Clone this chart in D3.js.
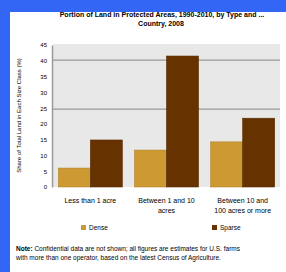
<!DOCTYPE html>
<html>
    <head>
        <script src="https://d3js.org/d3.v7.min.js"></script>
        <style>
            body { margin: 0; background: #fff; }
            svg text { font-family: "Liberation Sans", Arial, sans-serif; fill: #000; }
        </style>
    </head>
    <body>
        <svg id="svg" width=286 height=272></svg>
        <script>
            // chart data
            const categories = ["Less than 1 acre", "Between 1 and 10 acres", "Between 10 and 100 acres or more"];
            const categoryLines = [["Less than 1 acre"], ["Between 1 and 10", "acres"], ["Between 10 and", "100 acres or more"]];
            const seriesNames = ["Dense", "Sparse"];
            const denseValues = [6, 11.7, 14.3];
            const sparseValues = [14.9, 41.5, 21.8];
            const yTicks = [0, 5, 10, 15, 20, 25, 30, 35, 40, 45];
            const gridValues = [24.7, 40.2];
            const colors = ["#cc9933", "#663300"];

            const svg = d3.select("svg#svg");

            // blue page edge
            svg.append("rect").attr("x", 0).attr("y", 0).attr("width", 286).attr("height", 12).attr("fill", "#3366f5");
            svg.append("rect").attr("x", 0).attr("y", 0).attr("width", 10).attr("height", 272).attr("fill", "#3366f5");

            const plot = { left: 53, right: 280, top: 44, bottom: 187 };

            // title
            const title = svg.append("text")
                             .attr("text-anchor", "middle")
                             .attr("font-size", 7)
                             .attr("font-weight", "bold");
            title.append("tspan").attr("x", 162).attr("y", 17).text("Portion of Land in Protected Areas, 1990-2010, by Type and ...");
            title.append("tspan").attr("x", 161).attr("y", 26).text("Country, 2008");

            // scales
            const xScale = d3.scaleBand()
                             .domain(categories)
                             .range([plot.left, plot.right])
                             .paddingInner(0.16)
                             .paddingOuter(0.07);
            const subScale = d3.scaleBand()
                               .domain(seriesNames)
                               .range([0, xScale.bandwidth()]);
            const yScale = d3.scaleLinear()
                             .domain([0, 45])
                             .range([plot.bottom, plot.top + 1]);

            // plot background
            svg.append("rect")
               .attr("x", plot.left).attr("y", plot.top)
               .attr("width", plot.right - plot.left)
               .attr("height", plot.bottom - plot.top)
               .attr("fill", "#e8e8e8");

            // gridlines
            svg.append("g")
               .selectAll("line")
               .data(gridValues)
               .join("line")
               .attr("x1", plot.left).attr("x2", plot.right)
               .attr("y1", d => yScale(d)).attr("y2", d => yScale(d))
               .attr("stroke", "#999")
               .attr("stroke-width", 1.2);

            // left axis
            const leftAxis = d3.axisLeft(yScale)
                               .tickValues(yTicks)
                               .tickSize(0)
                               .tickPadding(5);
            const axisG = svg.append("g")
                             .attr("transform", `translate(${plot.left - 1},0)`)
                             .call(leftAxis);
            axisG.select(".domain").attr("stroke", "#999").attr("stroke-width", 1.5);
            axisG.selectAll("text").attr("font-size", 6).attr("font-family", "Liberation Sans, Arial, sans-serif");

            // y title
            svg.append("text")
               .attr("transform", `translate(21,${(plot.top + plot.bottom) / 2}) rotate(-90)`)
               .attr("text-anchor", "middle")
               .attr("font-size", 6)
               .text("Share of Total Land in Each Size Class (%)");

            // bars
            const rows = categories.map((c, i) => ({ cat: c, values: [denseValues[i], sparseValues[i]] }));
            const groups = svg.append("g")
                              .selectAll("g")
                              .data(rows)
                              .join("g")
                              .attr("transform", d => `translate(${xScale(d.cat)},0)`);
            groups.selectAll("rect")
                  .data(d => d.values.map((v, j) => ({ name: seriesNames[j], value: v, color: colors[j] })))
                  .join("rect")
                  .attr("x", d => subScale(d.name))
                  .attr("width", subScale.bandwidth())
                  .attr("y", d => yScale(d.value))
                  .attr("height", d => plot.bottom - yScale(d.value))
                  .attr("fill", d => d.color)
                  .attr("stroke", d => d3.color(d.color).darker(0.4))
                  .attr("stroke-width", 0.6);

            // category labels
            const catLabels = svg.append("g")
                                 .selectAll("text")
                                 .data(categories)
                                 .join("text")
                                 .attr("text-anchor", "middle")
                                 .attr("font-size", 7)
                                 .attr("y", 203);
            catLabels.selectAll("tspan")
                     .data((d, i) => categoryLines[i].map(t => ({ t, x: xScale(d) + xScale.bandwidth() / 2 })))
                     .join("tspan")
                     .attr("x", d => d.x)
                     .attr("dy", (d, i) => i === 0 ? 0 : 10)
                     .text(d => d.t);

            // legend
            const legendX = [81, 212];
            const legend = svg.append("g")
                              .selectAll("g")
                              .data(seriesNames)
                              .join("g")
                              .attr("transform", (d, i) => `translate(${legendX[i]},225)`);
            legend.append("rect").attr("width", 5).attr("height", 5).attr("fill", (d, i) => colors[i]);
            legend.append("text").attr("x", 8).attr("y", 5).attr("font-size", 6.5).text(d => d);

            // note
            const note = svg.append("text").attr("font-size", 6.5);
            note.append("tspan").attr("x", 16).attr("y", 251).attr("font-weight", "bold").text("Note:");
            note.append("tspan").text(" Confidential data are not shown; all figures are estimates for U.S. farms");
            note.append("tspan").attr("x", 16).attr("y", 260).text("with more than one operator, based on the latest Census of Agriculture.");
        </script>
    </body>
</html>
